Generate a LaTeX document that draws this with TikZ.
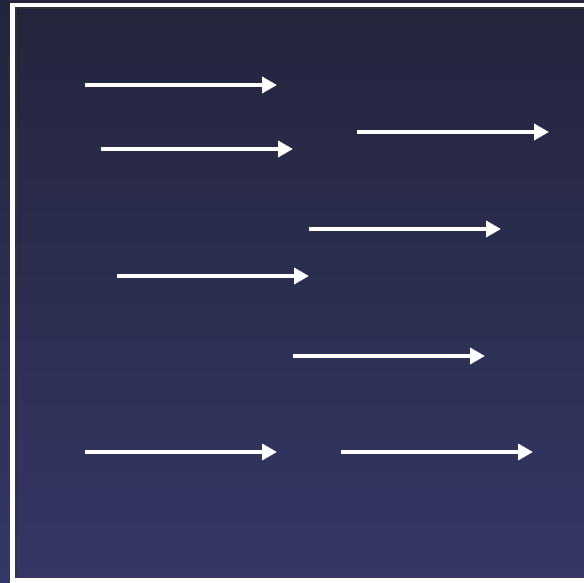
\documentclass[tikz,border=0pt]{standalone}
\usetikzlibrary{arrows.meta}
\definecolor{bgtop}{HTML}{23253B}
\definecolor{bgbot}{HTML}{353766}
\tikzset{
  whitearrow/.style={draw=white, line width=4pt, -{Triangle[length=15pt,width=16pt]}},
  framewhite/.style={draw=white, line width=4.5pt},
  frameshadow/.style={draw=black!80, line width=2pt, opacity=0.7}
}
\begin{document}
\begin{tikzpicture}[x=1pt,y=-1pt]
\useasboundingbox (0,0) rectangle (584,583);
\shade[top color=bgtop, bottom color=bgbot] (0,0) rectangle (584,583);
\begin{scope}
\clip (0,0) rectangle (584,583);
\coordinate (sh1) at (16,579);
\coordinate (sh2) at (16,8.5);
\coordinate (sh3) at (620,8.5);
\draw[frameshadow] (sh1) -- (sh2) -- (sh3);
\draw[framewhite] (12.5,5) rectangle (620,580.5);
\end{scope}
% arrow end points
\coordinate (a1s) at (85,85);  \coordinate (a1e) at (277,85);
\coordinate (a2s) at (101,149); \coordinate (a2e) at (293,149);
\coordinate (a3s) at (357,132); \coordinate (a3e) at (549,132);
\coordinate (a4s) at (309,229); \coordinate (a4e) at (501,229);
\coordinate (a5s) at (117,276); \coordinate (a5e) at (309,276);
\coordinate (a6s) at (293,356); \coordinate (a6e) at (485,356);
\coordinate (a7s) at (85,452);  \coordinate (a7e) at (277,452);
\coordinate (a8s) at (341,452); \coordinate (a8e) at (533,452);
\draw[whitearrow] (a1s) -- (a1e);
\draw[whitearrow] (a2s) -- (a2e);
\draw[whitearrow] (a3s) -- (a3e);
\draw[whitearrow] (a4s) -- (a4e);
\draw[whitearrow] (a5s) -- (a5e);
\draw[whitearrow] (a6s) -- (a6e);
\draw[whitearrow] (a7s) -- (a7e);
\draw[whitearrow] (a8s) -- (a8e);
\end{tikzpicture}
\end{document}
